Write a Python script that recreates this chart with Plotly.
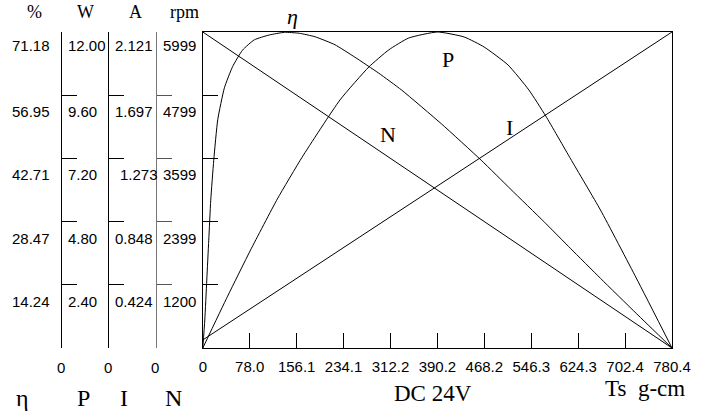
import plotly.graph_objects as go

# torque axis (g-cm)
torque_ticks = [0, 78.0, 156.1, 234.1, 312.2, 390.2, 468.2, 546.3, 624.3, 702.4, 780.4]
torque_text = ["0", "78.0", "156.1", "234.1", "312.2", "390.2", "468.2", "546.3", "624.3", "702.4", "780.4"]

# left scales
eff_ticks = [0, 14.24, 28.47, 42.71, 56.95, 71.18]
eff_text = ["", "14.24", "28.47", "42.71", "56.95", "71.18"]
pow_ticks = [0, 2.40, 4.80, 7.20, 9.60, 12.00]
pow_text = ["0", "2.40", "4.80", "7.20", "9.60", "12.00"]
cur_ticks = [0, 0.424, 0.848, 1.273, 1.697, 2.121]
cur_text = ["0", "0.424", "0.848", "1.273", "1.697", "2.121"]
spd_ticks = [0, 1200, 2399, 3599, 4799, 5999]
spd_text = ["0", "1200", "2399", "3599", "4799", "5999"]

# efficiency curve (%)
eff_T = [0, 3.3, 6.6, 9.9, 13.2, 18.2, 24.8, 35.9, 49.6, 66.1, 85.5, 110.3, 135.6, 160.4,
         186.8, 219.9, 253.0, 292.7, 330.7, 396.8, 463.0, 512.6, 567.1, 611.8, 661.4, 720.9, 780.4]
eff_val = [0, 6.3, 15.3, 24.3, 33.3, 42.3, 51.4, 58.6, 63.4, 67.1, 69.4, 70.5, 71.1, 70.9,
           70.1, 68.3, 65.5, 61.9, 58.1, 50.5, 42.3, 35.7, 28.5, 22.4, 15.7, 7.8, 0]

# output power curve (W)
pow_T = [0, 41.3, 79.4, 124.0, 165.3, 228.2, 276.1, 309.2, 342.3, 390.2, 434.8, 467.9,
         507.6, 542.3, 570.4, 611.8, 661.4, 720.9, 780.4]
pow_val = [0, 1.97, 3.72, 5.66, 7.25, 9.42, 10.67, 11.32, 11.77, 12.0, 11.81, 11.43,
           10.75, 9.80, 8.81, 7.18, 5.24, 2.66, 0]

# current (A) and speed (rpm)
cur_T = [0, 780.4]
cur_val = [0.054, 2.121]
spd_T = [0, 780.4]
spd_val = [5999, 0]

FIG_W, FIG_H = 715, 411
LEFT, RIGHT, TOP, BOT = 200, 672, 32, 348


def px(x):
    return x / RIGHT


def py(y):
    return (BOT - y) / (BOT - TOP)


SANS = "Liberation Sans, Arial, sans-serif"
SERIF = "Liberation Serif, Times New Roman, serif"
line = dict(color="black", width=1)

fig = go.Figure()
fig.add_trace(go.Scatter(x=eff_T, y=eff_val, mode="lines", line=dict(line, shape="spline", smoothing=0.5), yaxis="y"))
fig.add_trace(go.Scatter(x=pow_T, y=pow_val, mode="lines", line=dict(line, shape="spline", smoothing=0.5), yaxis="y2"))
fig.add_trace(go.Scatter(x=cur_T, y=cur_val, mode="lines", line=line, yaxis="y3"))
fig.add_trace(go.Scatter(x=spd_T, y=spd_val, mode="lines", line=line, yaxis="y4"))

common_y = dict(showline=True, linecolor="black", linewidth=1, ticks="inside", ticklen=15,
                tickcolor="black", tickwidth=1, showticklabels=False, showgrid=False, zeroline=False)

fig.update_layout(
    width=FIG_W, height=FIG_H,
    margin=dict(l=0, r=FIG_W - RIGHT, t=TOP, b=FIG_H - BOT),
    plot_bgcolor="white", paper_bgcolor="white",
    showlegend=False,
    xaxis=dict(domain=[px(LEFT), 1], range=[0, 780.4], showline=True, linecolor="black", mirror=True,
               ticks="inside", ticklen=15, tickcolor="black", tickvals=torque_ticks, ticktext=torque_text,
               tickfont=dict(family=SANS, size=15, color="black"), ticklabelstandoff=5,
               showgrid=False, zeroline=False),
    yaxis=dict(common_y, range=[0, 71.18], tickvals=eff_ticks, mirror=True, anchor="x"),
    yaxis2=dict(common_y, range=[0, 12], tickvals=pow_ticks, overlaying="y", anchor="free", position=px(57.7)),
    yaxis3=dict(common_y, range=[0, 2.121], tickvals=cur_ticks, overlaying="y", anchor="free", position=px(105)),
    yaxis4=dict(common_y, range=[0, 5999], tickvals=spd_ticks, overlaying="y", anchor="free",
                position=px(152.5), linecolor="#777", tickcolor="#555"),
)


def note(text, x, y, size, family=SERIF, xanchor="center", **kw):
    fig.add_annotation(text=text, x=px(x), y=py(y), xref="paper", yref="paper", showarrow=False,
                       xanchor=xanchor, yanchor="middle", font=dict(family=family, size=size, color="black"), **kw)


# left scale labels (drawn just below each tick)
for v, t in zip(eff_ticks, eff_text):
    if t:
        yy = BOT - v / 71.18 * (BOT - TOP)
        note(t, 48, yy + (13 if v == 71.18 else 16.5), 15, SANS, "right")
for ticks, texts, top, xl, anchor in [(pow_ticks, pow_text, 12, 62.5, "left"),
                                       (cur_ticks, cur_text, 2.121, 109.5, "left"),
                                       (spd_ticks, spd_text, 5999, 195.5, "right")]:
    for v, t in zip(ticks[1:], texts[1:]):
        yy = BOT - v / top * (BOT - TOP)
        x0 = 114.5 if t == "1.273" else xl
        note(t, x0, yy + (13 if v == top else 16.5), 15, SANS, anchor)

for x0 in (57.7, 105, 152.3):
    note("0", x0, 367, 15, SANS)

# column headers
note("%", 31, 12, 18)
note("W", 82, 12, 18)
note("A", 132, 12, 18)
note("rpm", 182, 12, 18)

# bottom legend symbols
note("η", 19, 398, 24)
note("P", 80, 398, 24)
note("I", 121, 398, 24)
note("N", 171, 398, 24)
note("DC 24V", 432, 394, 23)
note("Ts  g-cm", 645, 388, 23)

# curve labels
note("<i>η</i>", 290, 17, 22)
note("P", 447, 59, 22)
note("N", 386, 134, 22)
note("I", 509, 127, 22)

# drop the browser's default body margin so the figure fills the window
fig.write_html("out.html", config={"displayModeBar": False},
               post_script="document.body.style.margin = '0px';")
